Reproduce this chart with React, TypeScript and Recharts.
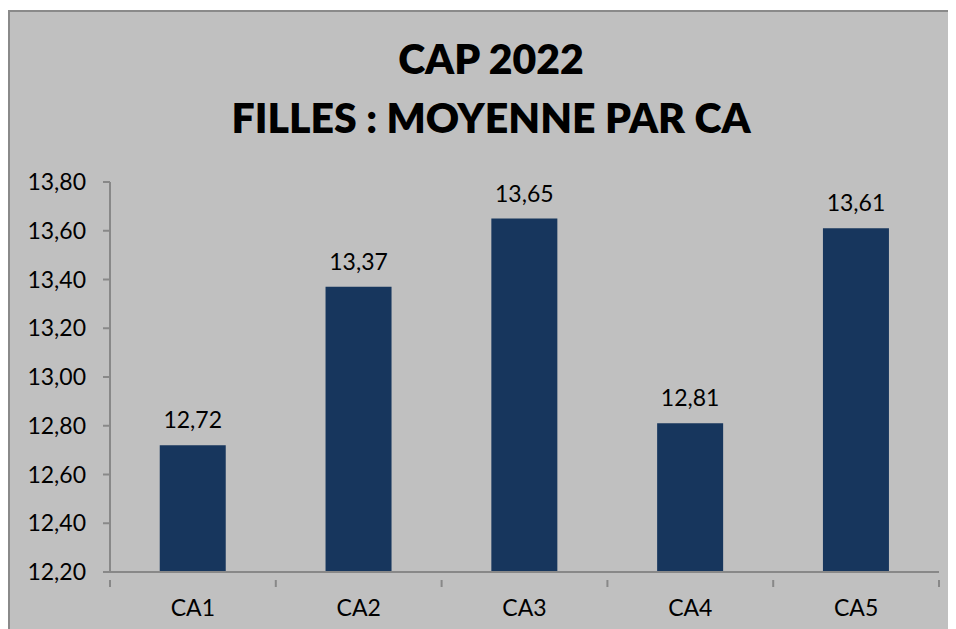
import React from "react";
import { BarChart, Bar, XAxis, YAxis, LabelList } from "recharts";

const categories = ["CA1", "CA2", "CA3", "CA4", "CA5"];
const values = [12.72, 13.37, 13.65, 12.81, 13.61];
const yTicks = [12.2, 12.4, 12.6, 12.8, 13.0, 13.2, 13.4, 13.6, 13.8];
const titleLines = ["CAP 2022", "FILLES : MOYENNE PAR CA"];

const data = categories.map((c, i) => ({ name: c, value: values[i] }));

const fmt = (v: number) => v.toFixed(2).replace(".", ",");
const FONT = "Lato, 'Open Sans', sans-serif";

const CHART_W = 960;
const CHART_H = 620;
const MARGIN = { top: 170, right: 31, bottom: 20, left: 0 };
const Y_W = 100;
const BAND = (CHART_W - MARGIN.left - MARGIN.right - Y_W) / categories.length;

const XTick = (props: any) => {
  const { x, y, payload, index } = props;
  return (
    <g>
      {index === 0 && (
        <line x1={x - BAND / 2} x2={x - BAND / 2} y1={y} y2={y + 7} stroke="#888" strokeWidth={2} />
      )}
      <line x1={x + BAND / 2} x2={x + BAND / 2} y1={y} y2={y + 7} stroke="#888" strokeWidth={2} />
      <text x={x} y={y + 36} textAnchor="middle" fontSize={23} fill="#000" fontFamily={FONT}>
        {payload.value}
      </text>
    </g>
  );
};

export default function App() {
  return (
    <div
      style={{
        position: "relative",
        marginTop: 2,
        width: 966,
        height: 626,
        background: "#c0c0c0",
        borderLeft: "2px solid #8a8a8a",
        borderTop: "2px solid #8a8a8a",
        boxSizing: "border-box",
        overflow: "hidden",
      }}
    >
      <div
        style={{
          position: "absolute",
          left: 0,
          top: 0,
          width: 962,
          textAlign: "center",
          fontFamily: FONT,
          fontWeight: 800,
          fontSize: 41,
          color: "#000",
        }}
      >
        <div style={{ position: "absolute", top: 22, width: "100%", lineHeight: "50px" }}>{titleLines[0]}</div>
        <div style={{ position: "absolute", top: 81, width: "100%", lineHeight: "50px" }}>{titleLines[1]}</div>
      </div>
      <div style={{ position: "absolute", left: 0, top: 0 }}>
        <BarChart width={CHART_W} height={CHART_H} data={data} margin={MARGIN} barCategoryGap="30%">
          <XAxis
            dataKey="name"
            tickLine={false}
            axisLine={{ stroke: "#888", strokeWidth: 2 }}
            tick={<XTick />}
            height={40}
            interval={0}
          />
          <YAxis
            width={Y_W}
            domain={[12.2, 13.8]}
            ticks={yTicks}
            interval={0}
            tickFormatter={fmt}
            tickSize={7}
            tickMargin={17}
            axisLine={{ stroke: "#888", strokeWidth: 2 }}
            tickLine={{ stroke: "#888", strokeWidth: 2 }}
            tick={{ fontSize: 23, fill: "#000", fontFamily: FONT }}
          />
          <Bar dataKey="value" fill="#17365d" isAnimationActive={false}>
            <LabelList
              dataKey="value"
              position="top"
              offset={17}
              formatter={(v: any) => fmt(Number(v))}
              style={{ fontSize: 23, fill: "#000", fontFamily: FONT }}
            />
          </Bar>
        </BarChart>
      </div>
    </div>
  );
}
